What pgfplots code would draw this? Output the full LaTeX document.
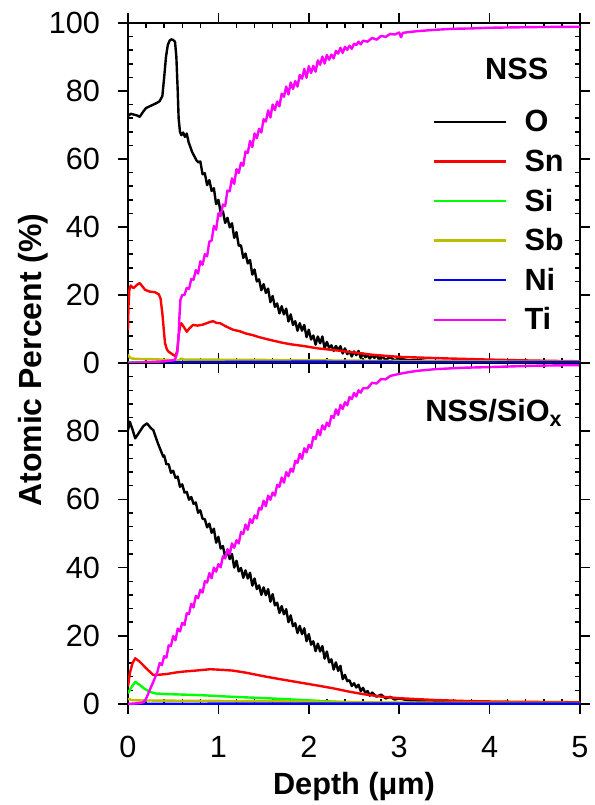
\documentclass[border=0pt]{standalone}
\usepackage{fontspec}
\setmainfont{Liberation Sans}
\usepackage{pgfplots}
\pgfplotsset{compat=1.18}
\definecolor{cO}{RGB}{0,0,0}
\definecolor{cSn}{RGB}{255,0,0}
\definecolor{cSi}{RGB}{0,255,0}
\definecolor{cSb}{RGB}{190,190,0}
\definecolor{cNi}{RGB}{0,0,255}
\definecolor{cTi}{RGB}{255,0,255}
\newcommand{\bfont}{\fontsize{23}{27}\selectfont\bfseries}
\pgfplotsset{
  pl/.style={line width=1.8pt, no marks, line join=round},
  common/.style={
    width=339pt, scale only axis,
    xmin=0, xmax=5, ymin=0, ymax=100,
    xtick={0,1,2,3,4,5}, minor x tick num=4,
    axis line style={line width=1.1pt},
    every tick/.style={black, line width=1.1pt},
    tick align=outside,
    major tick length=7.5pt, minor tick length=-3.75pt,
    /pgf/number format/assume math mode=true,
    tick label style={font=\fontsize{23}{27}\selectfont},
    yticklabel style={xshift=-10pt},
    xticklabel style={yshift=-13pt},
  }
}
\begin{document}
\begin{tikzpicture}
\path[use as bounding box] (-96pt,-75.75pt) rectangle (349.5pt,528pt);
% ---------------- bottom panel: NSS/SiOx ----------------
\begin{axis}[common, name=bot, at={(0pt,0pt)}, anchor=south west, height=255.75pt,
  ytick={0,20,40,60,80},
  minor ytick={4,8,12,16,24,28,32,36,44,48,52,56,64,68,72,76,84,88,92,96},
]
\addplot[pl,cO] coordinates {(0,80.3)(0.02,82.8)(0.05,80.5)(0.08,77.9)(0.12,79.5)(0.17,81.5)(0.21,82.3)(0.25,81.0)(0.28,80.3)(0.33,76.5)(0.39,72.5)
(0.400,72.9)(0.425,70.3)(0.450,70.3)(0.475,67.8)(0.500,68.4)(0.525,66.3)(0.550,66.7)(0.575,63.7)(0.600,64.4)(0.625,62.0)(0.650,62.2)(0.675,59.9)(0.700,60.7)(0.725,58.7)(0.750,59.1)(0.775,56.1)(0.800,56.8)(0.825,54.3)(0.850,54.2)(0.875,51.8)(0.900,52.9)(0.925,50.2)(0.950,51.4)(0.975,47.3)
(1.000,49.0)(1.025,45.6)(1.050,46.3)(1.075,43.1)(1.100,45.0)(1.125,42.5)(1.150,44.0)(1.175,40.0)(1.200,42.0)(1.225,38.9)(1.250,39.9)(1.275,37.0)(1.300,39.2)(1.325,36.8)(1.350,38.5)(1.375,34.7)(1.400,36.8)(1.425,33.7)(1.450,34.8)(1.475,32.0)(1.500,34.2)(1.525,31.9)(1.550,33.7)(1.575,30.0)(1.600,32.2)(1.625,28.9)(1.650,29.7)(1.675,26.7)(1.700,28.7)(1.725,26.3)(1.750,27.8)(1.775,24.0)(1.800,26.0)(1.825,22.8)(1.850,23.7)(1.875,20.8)(1.900,22.9)(1.925,20.5)(1.950,22.2)(1.975,18.4)
(2.000,20.5)(2.025,17.4)(2.050,18.4)(2.075,15.5)(2.100,17.7)(2.125,15.4)(2.150,17.0)(2.175,13.3)(2.200,15.4)(2.225,12.2)(2.250,13.1)(2.275,10.1)(2.300,12.2)(2.325,9.7)(2.350,11.2)(2.375,7.3)(2.400,8.55)(2.425,6.7)(2.450,6.95)(2.475,5.3)(2.500,6.1)(2.525,4.85)(2.550,5.65)(2.575,3.75)(2.600,4.75)(2.625,3.25)(2.650,3.8)(2.675,2.45)(2.700,3.35)(2.750,2.15)(2.800,2.75)(2.850,1.65)(2.900,2.1)(2.950,1.3)
(3.000,1.6)(3.1,1.1)(3.2,1.0)(3.35,0.8)(3.5,0.7)(4,0.5)(4.5,0.45)(5,0.4)};
\addplot[pl,cSn] coordinates {(0,5.1)(0.02,9.0)(0.05,12.0)(0.08,13.4)(0.1,13.0)(0.13,12.4)(0.2,10.5)(0.28,8.5)(0.35,8.6)(0.43,8.8)(0.52,9.2)(0.61,9.5)(0.75,9.8)(0.91,10.2)(1.05,10.0)(1.16,9.8)(1.3,9.2)(1.53,8.0)(1.7,7.2)(1.9,6.3)(2.1,5.4)(2.27,4.6)(2.45,3.6)(2.6,2.9)(2.82,2.1)(3.0,1.7)(3.37,1.2)(3.7,0.9)(4.1,0.7)(5.0,0.5)};
\addplot[pl,cSi] coordinates {(0,3.1)(0.03,4.6)(0.08,6.5)(0.13,5.6)(0.18,4.5)(0.24,3.6)(0.3,3.1)(0.43,2.9)(0.8,2.6)(1.16,2.1)(1.53,1.7)(1.9,1.2)(2.27,0.7)(2.5,0.5)(3,0.3)(5,0.2)};
\addplot[pl,cSb] coordinates {(0,1.5)(0.05,1.1)(0.3,1.0)(1,0.9)(2,0.7)(3,0.4)(5,0.3)};
\addplot[pl,cNi] coordinates {(0,0)(1,0.1)(5,0.1)};
\addplot[pl,cTi] coordinates {(0,0)(0.1,0.2)(0.17,0.5)(0.2,1.5)(0.24,4.1)(0.28,6.5)(0.325,9.4)
(0.350,12.0)(0.375,11.4)(0.400,14.0)(0.425,13.6)(0.450,17.2)(0.475,17.0)(0.500,19.9)(0.525,18.7)(0.550,22.1)(0.575,21.3)(0.600,23.8)(0.625,23.2)(0.650,26.6)(0.675,26.4)(0.700,29.4)(0.725,28.3)(0.750,31.7)(0.775,31.0)(0.800,33.5)(0.825,32.7)(0.850,36.0)(0.875,35.6)(0.900,38.4)(0.925,36.9)(0.950,40.0)(0.975,38.8)
(1.000,41.0)(1.025,40.1)(1.050,43.3)(1.075,42.7)(1.100,45.4)(1.125,43.9)(1.150,47.1)(1.175,45.8)(1.200,48.0)(1.225,47.1)(1.250,50.4)(1.275,49.9)(1.300,52.6)(1.325,51.1)(1.350,54.2)(1.375,53.1)(1.400,55.3)(1.425,54.4)(1.450,57.5)(1.475,57.0)(1.500,59.6)(1.525,58.0)(1.550,61.1)(1.575,59.9)(1.600,62.0)(1.625,61.1)(1.650,64.3)(1.675,63.7)(1.700,66.4)(1.725,64.9)(1.750,68.0)(1.775,66.8)(1.800,69.0)(1.825,68.1)(1.850,71.3)(1.875,70.7)(1.900,73.4)(1.925,71.9)(1.950,75.0)(1.975,73.8)
(2.000,76.0)(2.025,75.1)(2.050,78.3)(2.075,77.7)(2.100,80.4)(2.125,78.8)(2.150,81.7)(2.175,80.5)(2.200,82.5)(2.225,81.5)(2.250,84.5)(2.275,83.9)(2.300,86.4)(2.325,84.8)(2.350,87.7)(2.375,86.5)(2.400,88.5)(2.425,87.6)(2.450,90.0)(2.475,89.4)(2.500,91.2)(2.525,90.2)(2.550,92.0)(2.575,91.3)(2.600,92.6)(2.650,92.6)(2.700,94.2)(2.750,94.0)(2.800,95.3)(2.850,95.2)(2.900,96.2)
(3.0,96.8)(3.1,97.3)(3.2,97.7)(3.4,98.2)(3.7,98.6)(4.0,98.8)(4.5,99.2)(5.0,99.4)};
\node[anchor=base east, font=\bfont, xshift=-9.75pt, yshift=-44pt] at (rel axis cs:1,1) {NSS/SiO\textsubscript{x}};
\end{axis}
% ---------------- top panel: NSS ----------------
\begin{axis}[common, name=top, at={(0pt,255.75pt)}, anchor=south west, height=255pt,
  ytick={0,20,40,60,80,100}, minor y tick num=4,
  xticklabels={},
  legend cell align=left,
  legend style={draw=none, fill=none, inner sep=0pt, outer sep=0pt,
    at={(axis description cs:0.675,0.7386)}, anchor=north west,
    font=\bfont, row sep=14.7pt,
    nodes={inner sep=0pt, text height=15pt, text depth=0pt}},
  legend image code/.code={\draw[#1] (0pt,0pt) -- (54pt,0pt); \path (66.75pt,0pt);},
]
\addplot[pl,cO] coordinates {(0,72.6)(0.03,73.3)(0.06,73.1)(0.1,72.8)(0.13,72.4)(0.17,74.0)(0.2,75.0)(0.24,75.5)(0.28,76.0)(0.32,76.5)(0.35,77.0)(0.38,78.5)(0.40,84)(0.42,90)(0.44,93.5)(0.46,94.8)(0.48,95.2)(0.50,95.0)(0.52,94.5)(0.535,90)(0.55,80)(0.56,72)(0.575,68)(0.59,67.0)(0.61,67.8)(0.63,66.5)(0.65,67.5)(0.67,65.0)(0.69,63.5)(0.71,62.0)(0.73,61.0)(0.76,59.5)(0.78,59.0)
(0.800,59.3)(0.825,55.5)(0.850,55.8)(0.875,52.3)(0.900,53.8)(0.925,50.6)(0.950,51.4)(0.975,46.7)
(1.000,48.0)(1.025,44.3)(1.050,44.6)(1.075,41.2)(1.100,42.7)(1.125,39.9)(1.150,41.1)(1.175,36.8)(1.200,38.5)(1.225,34.5)(1.250,34.6)(1.275,30.9)(1.300,32.2)(1.325,29.3)(1.350,30.3)(1.375,26.0)(1.400,27.5)(1.425,24.0)(1.450,24.6)(1.475,21.4)(1.500,23.2)(1.525,20.6)(1.550,21.9)(1.575,17.9)(1.600,19.7)(1.625,16.5)(1.650,17.5)(1.675,14.6)(1.700,16.7)(1.725,14.3)(1.750,16.0)(1.775,12.2)(1.800,14.3)(1.825,11.2)(1.850,12.3)(1.875,9.5)(1.900,11.7)(1.925,9.5)(1.950,11.2)(1.975,7.6)
(2.000,9.8)(2.025,6.9)(2.050,8.1)(2.075,5.4)(2.100,7.8)(2.125,5.8)(2.150,7.8)(2.175,4.3)(2.200,6.2)(2.225,4.45)(2.250,5.2)(2.275,3.55)(2.300,5.0)(2.325,3.8)(2.350,4.95)(2.375,2.8)(2.400,4.3)(2.425,2.6)(2.450,3.45)(2.475,1.9)(2.500,3.4)(2.525,2.3)(2.550,3.55)(2.575,1.5)(2.600,2.8)(2.625,1.7)(2.650,2.25)(2.675,1.3)(2.700,2.3)(2.725,1.5)(2.750,2.35)(2.775,1.05)(2.800,2.1)(2.850,0.95)(2.900,1.7)(2.950,0.8)
(3.000,1.3)(3.1,0.8)(3.2,0.9)(3.3,0.6)(3.5,0.6)(3.8,0.4)(4.2,0.4)(4.6,0.3)(5.0,0.3)};
\addlegendentry{O}
\addplot[pl,cSn] coordinates {(0,9.7)(0.005,16.6)(0.015,21.5)(0.03,22.8)(0.06,22.0)(0.1,23.0)(0.13,23.5)(0.16,22.5)(0.19,21.5)(0.24,21.0)(0.3,20.8)(0.34,20.2)(0.36,19.0)(0.38,14.6)(0.40,8.5)(0.41,5.8)(0.43,4.0)(0.45,3.3)(0.5,2.4)(0.525,2.0)(0.545,3.6)(0.56,8)(0.575,10.7)(0.59,11.7)(0.62,10.5)(0.65,9.2)(0.68,10.2)(0.72,11.2)(0.77,11.0)(0.83,11.3)(0.9,12.0)(0.94,12.3)(0.98,11.8)(1.02,11.7)(1.08,10.8)(1.16,9.8)(1.24,9.3)(1.3,8.7)(1.38,8.2)(1.45,7.6)(1.57,6.8)(1.7,6.0)(1.8,5.5)(1.94,5.0)(2.1,4.3)(2.31,3.7)(2.56,2.9)(2.71,2.4)(3.0,1.8)(3.45,1.4)(4.0,1.0)(4.5,0.7)(5.0,0.5)};
\addlegendentry{Sn}
\addplot[pl,cSi] coordinates {(0,0.1)(1,0.05)(5,0.0)};
\addlegendentry{Si}
\addplot[pl,cSb] coordinates {(0,2.5)(0.02,1.6)(0.05,1.3)(0.1,1.2)(0.3,1.1)(0.45,0.9)(0.52,0.6)(0.56,0.8)(0.59,1.3)(0.62,1.0)(0.8,1.0)(1.5,0.9)(2.5,0.7)(3.5,0.5)(5,0.4)};
\addlegendentry{Sb}
\addplot[pl,cNi] coordinates {(0,0)(0.5,0.2)(1,0.3)(2,0.4)(3,0.3)(5,0.3)};
\addlegendentry{Ni}
\addplot[pl,cTi] coordinates {(0,0)(0.2,0.2)(0.4,0.5)(0.5,0.8)(0.52,1.0)(0.545,3)(0.56,8)(0.567,12.7)(0.58,18.6)
(0.600,20.0)(0.625,20.0)(0.650,22.1)(0.675,21.8)(0.700,24.7)(0.725,24.5)(0.750,27.3)(0.775,26.3)(0.800,29.9)(0.825,28.9)(0.850,32.0)(0.875,31.4)(0.900,35.7)(0.925,36.0)(0.950,40.3)(0.975,39.2)
(1.000,44.0)(1.025,43.2)(1.050,46.6)(1.075,46.2)(1.100,50.7)(1.125,50.5)(1.150,54.3)(1.175,52.7)(1.200,57.0)(1.225,55.9)(1.250,58.9)(1.275,58.0)(1.300,62.2)(1.325,61.8)(1.350,65.3)(1.375,63.5)(1.400,67.5)(1.425,66.1)(1.450,68.9)(1.475,67.8)(1.500,71.7)(1.525,71.0)(1.550,74.3)(1.575,72.2)(1.600,76.0)(1.625,74.4)(1.650,76.9)(1.675,75.5)(1.700,79.2)(1.725,78.3)(1.750,81.3)(1.775,79.0)(1.800,82.5)(1.825,80.6)(1.850,82.9)(1.875,81.3)(1.900,84.7)(1.925,83.6)(1.950,86.5)(1.975,83.9)
(2.000,87.3)(2.025,85.3)(2.050,87.4)(2.075,85.7)(2.100,89.0)(2.125,87.7)(2.150,90.1)(2.175,88.1)(2.200,90.6)(2.225,89.2)(2.250,90.7)(2.275,89.6)(2.300,91.8)(2.325,91.0)(2.350,92.7)(2.375,91.2)(2.400,93.0)(2.425,92.1)(2.450,93.3)(2.475,92.4)(2.500,93.9)(2.525,93.5)(2.550,94.5)(2.575,93.7)(2.600,94.8)(2.650,94.5)(2.700,95.6)(2.750,95.1)(2.800,96.2)(2.850,95.9)(2.900,96.8)(2.950,96.6)
(3.000,97.2)(3.02,95.8)(3.04,97.1)(3.1,97.3)(3.2,97.6)(3.3,97.8)(3.4,98.0)(3.6,98.3)(3.8,98.4)(4.0,98.6)(4.5,98.8)(5.0,98.9)};
\addlegendentry{Ti}
\node[anchor=base east, font=\bfont, xshift=-20.25pt, yshift=-42.75pt] at (rel axis cs:1,1) {NSS};
\end{axis}
\node[rotate=90, font=\fontsize{24}{28}\selectfont\bfseries] at (-71.25pt,258pt) {Atomic Percent (\%)};
\node[anchor=base, font=\bfont] at (169.5pt,-67.5pt) {Depth (μm)};
\end{tikzpicture}
\end{document}
